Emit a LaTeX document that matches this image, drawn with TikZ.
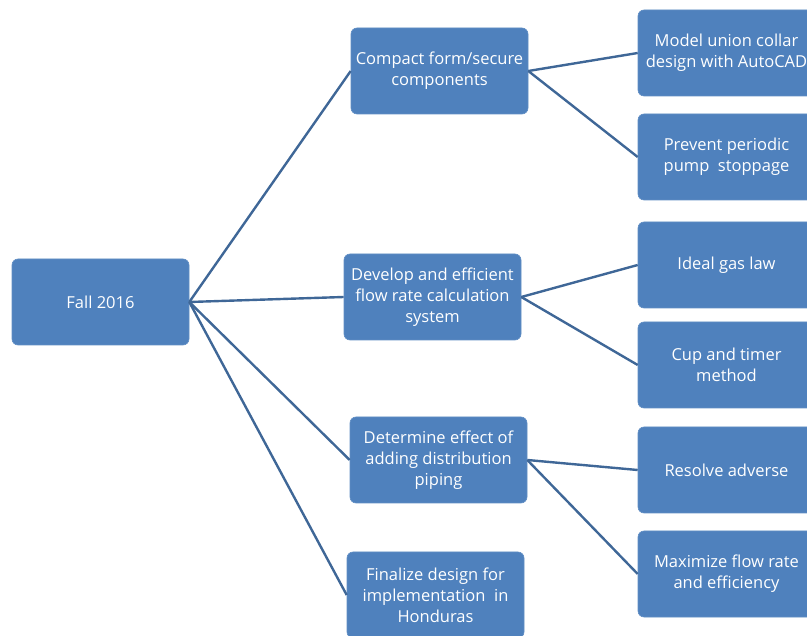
\documentclass[tikz,border=0pt]{standalone}
\usepackage{fontspec}
\setmainfont{Open Sans}
\usepackage{xcolor}
\definecolor{boxblue}{HTML}{4F81BD}
\definecolor{linkblue}{HTML}{3F6797}
\tikzset{
    goal/.style={rectangle, rounded corners=6pt, fill=boxblue, draw=boxblue!90!white,
        line width=0.6pt, text=white, align=center, minimum width=177pt,
        minimum height=86pt, inner sep=0pt,
        font=\fontsize{16.5}{21}\selectfont},
    link/.style={draw=linkblue, line width=2.4pt}
}

\begin{document}
\begin{tikzpicture}[x=1pt,y=-1pt]
    \useasboundingbox (0,0) rectangle (807,636);
    % root
    \node[goal] (fall) at (100.5,302) {Fall 2016};
    % middle column
    \node[goal] (compact) at (439.5,71) {Compact form/secure\\components};
    \node[goal] (develop) at (432.5,297) {Develop and efficient\\flow rate calculation\\system};
    \node[goal] (determine) at (438.5,460) {Determine effect of\\adding distribution\\piping};
    \node[goal] (finalize) at (435.5,595) {Finalize design for\\implementation\ \ in\\Honduras};
    % right column
    \node[goal] (model) at (726.5,53) {Model union collar\\design with AutoCAD};
    \node[goal] (prevent) at (726.5,157) {Prevent periodic\\pump\ \ stoppage};
    \node[goal] (ideal) at (726.5,265) {Ideal gas law};
    \node[goal] (cup) at (726.5,365) {Cup and timer\\method};
    \node[goal] (resolve) at (726.5,470) {Resolve adverse};
    \node[goal] (maximize) at (726.5,574) {Maximize flow rate\\and efficiency};
    % links
    \foreach \mid in {compact,develop,determine,finalize}
        \draw[link] (fall.east) -- (\mid.west);
    \draw[link] (compact.east) -- (model.west);
    \draw[link] (compact.east) -- (prevent.west);
    \draw[link] (develop.east) -- (ideal.west);
    \draw[link] (develop.east) -- (cup.west);
    \draw[link] (determine.east) -- (resolve.west);
    \draw[link] (determine.east) -- (maximize.west);
\end{tikzpicture}
\end{document}
